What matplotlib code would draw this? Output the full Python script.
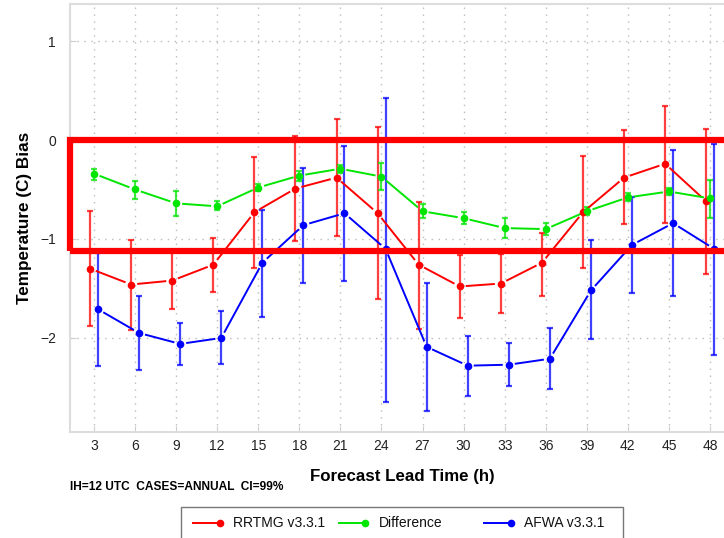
import numpy as np
import matplotlib
matplotlib.use("Agg")
import matplotlib.pyplot as plt
from matplotlib.lines import Line2D
from matplotlib.patches import Rectangle

plt.rcParams['font.family'] = ['Liberation Sans', 'DejaVu Sans']

# forecast lead times (h)
hours = [3, 6, 9, 12, 15, 18, 21, 24, 27, 30, 33, 36, 39, 42, 45, 48]

# RRTMG v3.3.1 bias and 99% CI
rrtmg_bias = [-1.30, -1.46, -1.42, -1.26, -0.73, -0.49, -0.38, -0.74,
              -1.26, -1.48, -1.45, -1.24, -0.73, -0.38, -0.24, -0.62]
rrtmg_lo = [-1.88, -1.92, -1.71, -1.54, -1.29, -1.02, -0.97, -1.61,
            -1.91, -1.80, -1.75, -1.58, -1.29, -0.85, -0.84, -1.35]
rrtmg_hi = [-0.72, -1.01, -1.13, -0.99, -0.17, 0.04, 0.21, 0.13,
            -0.63, -1.16, -1.15, -0.94, -0.16, 0.10, 0.34, 0.11]

# Difference
diff_bias = [-0.34, -0.50, -0.64, -0.67, -0.48, -0.36, -0.29, -0.37,
             -0.72, -0.79, -0.89, -0.90, -0.72, -0.58, -0.52, -0.59]
diff_lo = [-0.40, -0.60, -0.77, -0.71, -0.52, -0.41, -0.33, -0.51,
           -0.79, -0.85, -0.99, -0.96, -0.76, -0.62, -0.56, -0.79]
diff_hi = [-0.29, -0.41, -0.52, -0.62, -0.44, -0.31, -0.25, -0.23,
           -0.65, -0.73, -0.79, -0.84, -0.68, -0.54, -0.48, -0.40]

# AFWA v3.3.1
afwa_bias = [-1.71, -1.95, -2.06, -2.00, -1.24, -0.86, -0.74, -1.10,
             -2.09, -2.28, -2.27, -2.21, -1.52, -1.06, -0.84, -1.10]
afwa_lo = [-2.28, -2.32, -2.27, -2.26, -1.79, -1.44, -1.42, -2.65,
           -2.74, -2.59, -2.49, -2.52, -2.01, -1.55, -1.58, -2.17]
afwa_hi = [-1.14, -1.58, -1.85, -1.73, -0.71, -0.28, -0.06, 0.42,
           -1.44, -1.98, -2.05, -1.90, -1.01, -0.58, -0.10, -0.04]

series = [
    ("RRTMG v3.3.1", rrtmg_bias, rrtmg_lo, rrtmg_hi, "#ff0000", -0.28),
    ("Difference", diff_bias, diff_lo, diff_hi, "#00e600", 0.0),
    ("AFWA v3.3.1", afwa_bias, afwa_lo, afwa_hi, "#0000ff", 0.3),
]

W, H = 724, 538
fig = plt.figure(figsize=(W / 100, H / 100), dpi=100)
ax = fig.add_axes([70 / W, (H - 432) / H, (734 - 70) / W, (432 - 4) / H])
ax.set_xlim(1.25, 49.75)
ax.set_ylim(-2.95, 1.374)

ax.set_xticks(hours)
ax.set_yticks([-2, -1, 0, 1])
ax.set_yticklabels(["\u22122", "\u22121", "0", "1"])
ax.tick_params(direction='in', length=4, color='#cccccc', labelsize=10,
               labelcolor='#222222')
ax.tick_params(axis='x', pad=5)
ax.tick_params(axis='y', pad=10)
ax.grid(True, color='#bbbbbb', linestyle=(0, (1, 4)), linewidth=1)
for s in ax.spines.values():
    s.set_color('#dddddd')
    s.set_linewidth(1.5)


def gapped_line(x, y, color, gap=7):
    # R type="b": segments stop short of the points
    pts = ax.transData.transform(np.column_stack([x, y]))
    inv = ax.transData.inverted()
    for p0, p1 in zip(pts[:-1], pts[1:]):
        d = p1 - p0
        n = np.hypot(*d)
        if n <= 2 * gap:
            continue
        u = d / n
        seg = inv.transform(np.array([p0 + u * gap, p1 - u * gap]))
        ax.plot(seg[:, 0], seg[:, 1], color=color, lw=1.4, zorder=3)


for name, b, lo, hi, c, off in series:
    x = np.array(hours) + off
    b = np.array(b)
    yerr = [b - np.array(lo), np.array(hi) - b]
    ax.errorbar(x, b, yerr=yerr, fmt='none', ecolor=c, elinewidth=1.6,
                capsize=2.5, capthick=1.6, alpha=0.75, zorder=2)
    ax.plot(x, b, 'o', color=c, ms=4.5, zorder=4)
    gapped_line(x, b, c)

ax.set_ylabel("Temperature (C) Bias", fontsize=12.3, fontweight='bold')
ax.yaxis.set_label_coords(-38 / 664, 0.5)
fig.text(402 / W, 1 - 477 / H, "Forecast Lead Time (h)", fontsize=12.2,
         fontweight='bold', ha='center', va='center')
fig.text(70 / W, 1 - 487 / H, "IH=12 UTC  CASES=ANNUAL  CI=99%", fontsize=8.6,
         fontweight='bold', ha='left', va='center')

# highlight box
ax.add_patch(Rectangle((1.25, -1.125), 50, 1.125, fill=False,
                       edgecolor='#ff0000', lw=4.5, clip_on=False, zorder=10))

# legend drawn below the axes
fig.add_artist(Rectangle((181 / W, 1 - 545 / H), (623 - 181) / W, 38 / H,
                         transform=fig.transFigure, fill=False,
                         edgecolor='#777777', lw=1))
for i, (name, b, lo, hi, c, off) in enumerate(series):
    x0 = 193 + i * 145.5
    y0 = 1 - 523 / H
    fig.add_artist(Line2D([x0 / W, (x0 + 27) / W], [y0, y0], color=c, lw=1.4,
                          transform=fig.transFigure))
    fig.add_artist(Line2D([(x0 + 27) / W], [y0], color=c, marker='o', ms=4.5,
                          transform=fig.transFigure))
    fig.text((x0 + 40) / W, y0, name, fontsize=10, ha='left', va='center',
             color='#111111')

fig.savefig("out.png", dpi=100)
